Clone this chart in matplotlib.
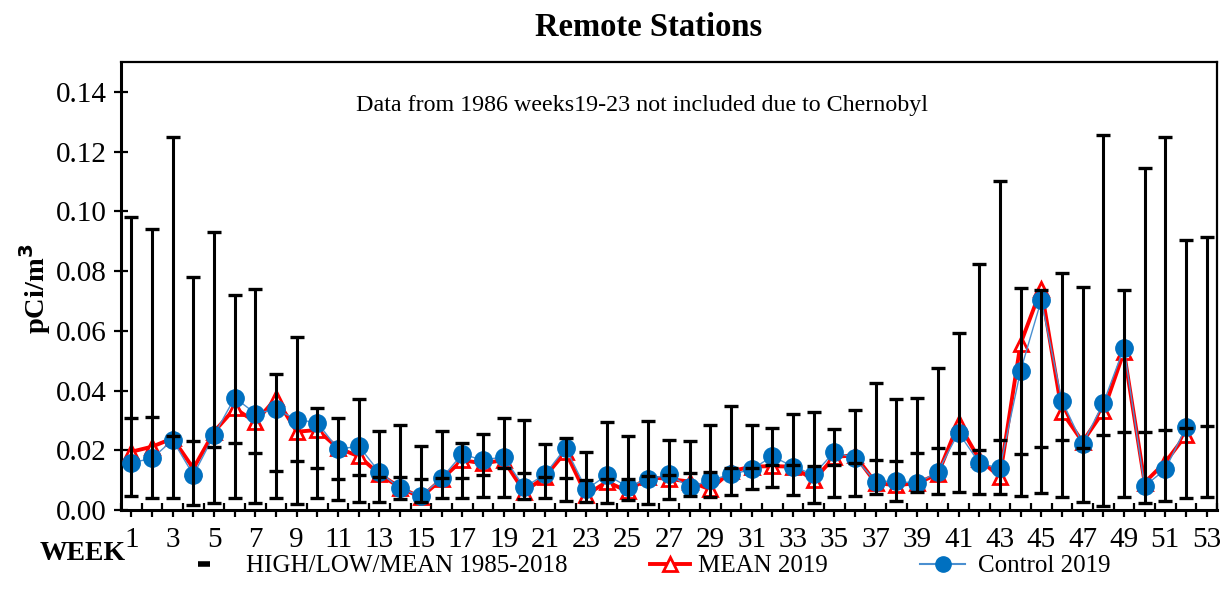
import matplotlib
matplotlib.use("Agg")
import matplotlib.pyplot as plt
from matplotlib.lines import Line2D
import numpy as np

plt.rcParams['font.family'] = ['Liberation Serif', 'DejaVu Serif']

weeks = list(range(1, 54))

hist_high = [0.098, 0.094, 0.125, 0.078, 0.093, 0.072, 0.074, 0.0455, 0.058, 0.034,
             0.0307, 0.037, 0.0264, 0.0284, 0.0214, 0.0264, 0.0225, 0.0254, 0.0307, 0.0301,
             0.022, 0.024, 0.0195, 0.0295, 0.0247, 0.0299, 0.0236, 0.0232, 0.0284, 0.0348,
             0.0284, 0.0275, 0.0323, 0.0327, 0.027, 0.0334, 0.0426, 0.0373, 0.0376, 0.0477,
             0.0593, 0.0822, 0.1101, 0.0743, 0.0736, 0.0794, 0.0747, 0.1254, 0.0738, 0.1145,
             0.1249, 0.0903, 0.0914]
hist_low = [0.0047, 0.0041, 0.0041, 0.0017, 0.0024, 0.0041, 0.0022, 0.0039, 0.0020, 0.0041,
            0.0033, 0.0028, 0.0028, 0.0036, 0.0028, 0.0039, 0.0039, 0.0045, 0.0045, 0.0036,
            0.0039, 0.0031, 0.0028, 0.0024, 0.0035, 0.0020, 0.0036, 0.0047, 0.0045, 0.0050,
            0.0069, 0.0076, 0.0050, 0.0022, 0.0042, 0.0047, 0.0054, 0.0031, 0.0060, 0.0054,
            0.0061, 0.0054, 0.0054, 0.0047, 0.0056, 0.0042, 0.0028, 0.0013, 0.0045, 0.0022,
            0.0031, 0.0039, 0.0045]
hist_mean = [0.0309, 0.0310, 0.0247, 0.0231, 0.0212, 0.0223, 0.0192, 0.0132, 0.0165, 0.0139,
             0.0104, 0.0117, 0.0111, 0.0109, 0.0103, 0.0106, 0.0106, 0.0117, 0.0139, 0.0123,
             0.0111, 0.0106, 0.0100, 0.0104, 0.0104, 0.0114, 0.0117, 0.0123, 0.0128, 0.0142,
             0.0139, 0.0150, 0.0150, 0.0147, 0.0150, 0.0156, 0.0167, 0.0164, 0.0192, 0.0208,
             0.0190, 0.0201, 0.0236, 0.0186, 0.0212, 0.0236, 0.0208, 0.0251, 0.0262, 0.0262,
             0.0268, 0.0273, 0.0281]

weeks_2019 = list(range(1, 53))
mean_2019 = [0.0195, 0.0212, 0.0240, 0.0139, 0.0262, 0.0340, 0.0295, 0.0374, 0.0262, 0.0268,
             0.0207, 0.0180, 0.0120, 0.0075, 0.0042, 0.0103, 0.0167, 0.0156, 0.0167, 0.0061,
             0.0111, 0.0195, 0.0050, 0.0095, 0.0062, 0.0110, 0.0104, 0.0095, 0.0069, 0.0130,
             0.0145, 0.0147, 0.0145, 0.0100, 0.0178, 0.0183, 0.0090, 0.0083, 0.0090, 0.0120,
             0.0290, 0.0170, 0.0111, 0.0557, 0.0741, 0.0329, 0.0228, 0.0330, 0.0530, 0.0092,
             0.0160, 0.0251]
control_2019 = [0.0158, 0.0173, 0.0234, 0.0117, 0.0251, 0.0376, 0.0323, 0.0337, 0.0303, 0.0292,
                0.0203, 0.0214, 0.0126, 0.0073, 0.0047, 0.0106, 0.0187, 0.0167, 0.0178, 0.0076,
                0.0119, 0.0208, 0.0069, 0.0117, 0.0078, 0.0103, 0.0119, 0.0076, 0.0100, 0.0119,
                0.0136, 0.0180, 0.0145, 0.0119, 0.0195, 0.0173, 0.0095, 0.0097, 0.0089, 0.0128,
                0.0259, 0.0158, 0.0139, 0.0466, 0.0702, 0.0366, 0.0221, 0.0357, 0.0543, 0.0080,
                0.0136, 0.0277]

yticks = [0.00, 0.02, 0.04, 0.06, 0.08, 0.10, 0.12, 0.14]
xlabels = [str(w) if w % 2 == 1 else "" for w in weeks]

RED = "#FF0000"
BLUE = "#0070C0"
BLUE_LINE = "#4A8FD0"

fig = plt.figure(figsize=(12.22, 6.01), dpi=100)
ax = fig.add_axes([121/1222, 1 - 510/601, (1217-121)/1222, (510-62)/601])

# 2019 series
ax.plot(weeks_2019, mean_2019, color=RED, lw=2.8, marker='^', ms=10.5,
        mfc='white', mec=RED, mew=2, zorder=3)
ax.plot(weeks_2019, control_2019, color=BLUE_LINE, lw=1.0, marker='o', ms=12.5,
        mfc=BLUE, mec=BLUE, zorder=4)

# historical high/low/mean bars
ax.vlines(weeks, hist_low, hist_high, color='black', lw=2.2, zorder=5)
for arr in (hist_high, hist_low, hist_mean):
    ax.plot(weeks, arr, ls='none', marker='_', ms=10.5, mew=2.4, color='black', zorder=6)

ax.set_xlim(0.5, 53.45)
ax.set_ylim(0, 0.15)
ax.set_yticks(yticks)
ax.set_yticklabels([f"{v:.2f}" for v in yticks])
ax.set_xticks(weeks)
ax.set_xticklabels(xlabels)
ax.set_xticks(np.arange(0.5, 54, 1.0), minor=True)

ax.tick_params(axis='y', direction='inout', length=10, width=1.6, labelsize=21, pad=5)
ax.tick_params(axis='x', which='major', direction='out', length=5, width=1.6, labelsize=21, pad=7)
ax.tick_params(axis='x', which='minor', direction='in', length=5, width=1.6)

for s in ['left', 'bottom']:
    ax.spines[s].set_linewidth(2.2)
for s in ['top', 'right']:
    ax.spines[s].set_linewidth(1.6)

ax.set_ylabel("pCi/m$^\\mathbf{3}$", fontsize=20.5, fontweight='bold')
ax.yaxis.set_label_coords(-0.062, 0.495)

fig.text(649/1222, 1 - 27/601, "Remote Stations", ha='center', va='center',
         fontsize=23.5, fontweight='bold')
fig.text(642/1222, 1 - 105/601, "Data from 1986 weeks19-23 not included due to Chernobyl",
         ha='center', va='center', fontsize=17.3)
fig.text(40/1222, 1 - 554/601, "WEEK", ha='left', va='center', fontsize=20, fontweight='bold')

# legend
h1 = Line2D([], [], ls='none', marker='_', ms=9, mew=4, color='black')
h2 = Line2D([], [], color=RED, lw=2.8, marker='^', ms=10.5, mfc='white', mec=RED, mew=2)
h3 = Line2D([], [], color=BLUE_LINE, lw=1.5, marker='o', ms=11, mfc=BLUE, mec=BLUE)
ly = 1 - 566/601
fig.legend(handles=[h1], labels=["HIGH/LOW/MEAN 1985-2018"], loc='center left',
           bbox_to_anchor=(181/1222, ly), frameon=False, fontsize=18,
           handlelength=1.8, handletextpad=0.8, borderaxespad=0, borderpad=0)
fig.legend(handles=[h2], labels=["MEAN 2019"], loc='center left',
           bbox_to_anchor=(650/1222, ly), frameon=False, fontsize=18,
           handlelength=1.6, handletextpad=0.32, borderaxespad=0, borderpad=0)
fig.legend(handles=[h3], labels=["Control 2019"], loc='center left',
           bbox_to_anchor=(920/1222, ly), frameon=False, fontsize=18,
           handlelength=1.8, handletextpad=0.5, borderaxespad=0, borderpad=0)

fig.savefig("out.png", dpi=100)
